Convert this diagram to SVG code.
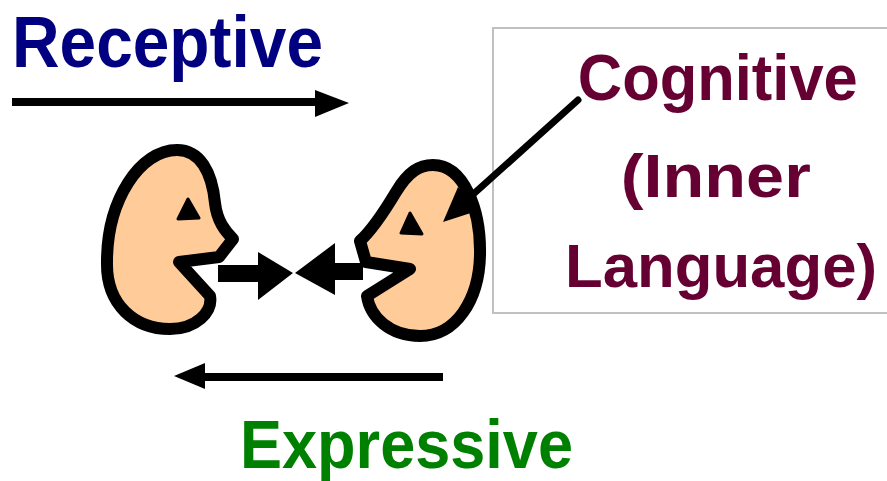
<svg xmlns="http://www.w3.org/2000/svg" width="887" height="481" viewBox="0 0 887 481">
  <style>
    .label { font-family: "Comic Sans MS", "Liberation Sans", Arial, sans-serif; font-weight: bold; }
    .face { fill: #FFCC99; stroke: #000; stroke-width: 12; stroke-linejoin: round; }
    .eye { fill: #000; stroke: #000; stroke-width: 3; stroke-linejoin: round; }
    .shaft { stroke: #000; fill: none; }
    .head { fill: #000; }
  </style>
  <rect width="887" height="481" fill="#fff"/>

  <!-- caption box around the inner-language label -->
  <g id="cognitive-box">
    <rect x="493" y="28" width="400" height="285" fill="#fff" stroke="#c0c0c0" stroke-width="2"/>
    <text class="label" fill="#660033" text-anchor="middle">
      <tspan x="720" y="100" font-size="64" textLength="280" lengthAdjust="spacingAndGlyphs">Cognitive</tspan>
      <tspan x="718" y="197" font-size="62" textLength="190" lengthAdjust="spacingAndGlyphs">(Inner</tspan>
      <tspan x="721" y="287" font-size="62" textLength="312" lengthAdjust="spacingAndGlyphs">Language)</tspan>
    </text>
  </g>

  <g id="receptive-label">
    <text class="label" x="12" y="67" font-size="72" fill="#000080" textLength="311" lengthAdjust="spacingAndGlyphs">Receptive</text>
  </g>
  <g id="expressive-label">
    <text class="label" x="240" y="468" font-size="68" fill="#008000" textLength="333" lengthAdjust="spacingAndGlyphs">Expressive</text>
  </g>

  <!-- speaker facing right -->
  <g id="left-head">
    <path class="face" d="M233,239 C225,231 217,221 215,203 C212,172 200,150 177,150 C140,150 107,200 107,262 C106,305 135,329 170,329 C196,329 213,312 210,296 L179,262 L219,257 Z"/>
    <path class="eye" d="M188,199 L178,219 L199,218 Z"/>
  </g>

  <!-- listener facing left -->
  <g id="right-head">
    <path class="face" d="M360,241 C372,230 384,212 396,192 C408,172 419,165 433,165 C464,165 481,210 480,255 C479,300 456,336 420,336 C390,336 370,317 367,296 L410,269 L366,262 Z"/>
    <path class="eye" d="M410,213 L401,233 L422,234 Z"/>
  </g>

  <g id="connectors">
    <!-- receptive direction -->
    <line class="shaft" x1="12" y1="102" x2="318" y2="102" stroke-width="8"/>
    <polygon class="head" points="315,90 349,103 315,117"/>
    <!-- expressive direction -->
    <line class="shaft" x1="443" y1="377" x2="203" y2="377" stroke-width="8"/>
    <polygon class="head" points="205,363 174,376 205,389"/>
    <!-- speech meeting between the faces -->
    <rect class="head" x="218" y="265" width="42" height="17"/>
    <polygon class="head" points="258,252 293,273 258,300"/>
    <polygon class="head" points="335,243 295,273 335,295"/>
    <rect class="head" x="333" y="263" width="30" height="17"/>
    <!-- pointer from label into the listener's head -->
    <line class="shaft" x1="578" y1="100" x2="469" y2="198" stroke-width="7" stroke-linecap="round"/>
    <polygon class="head" points="443,222 480,210 458,187"/>
  </g>
</svg>
